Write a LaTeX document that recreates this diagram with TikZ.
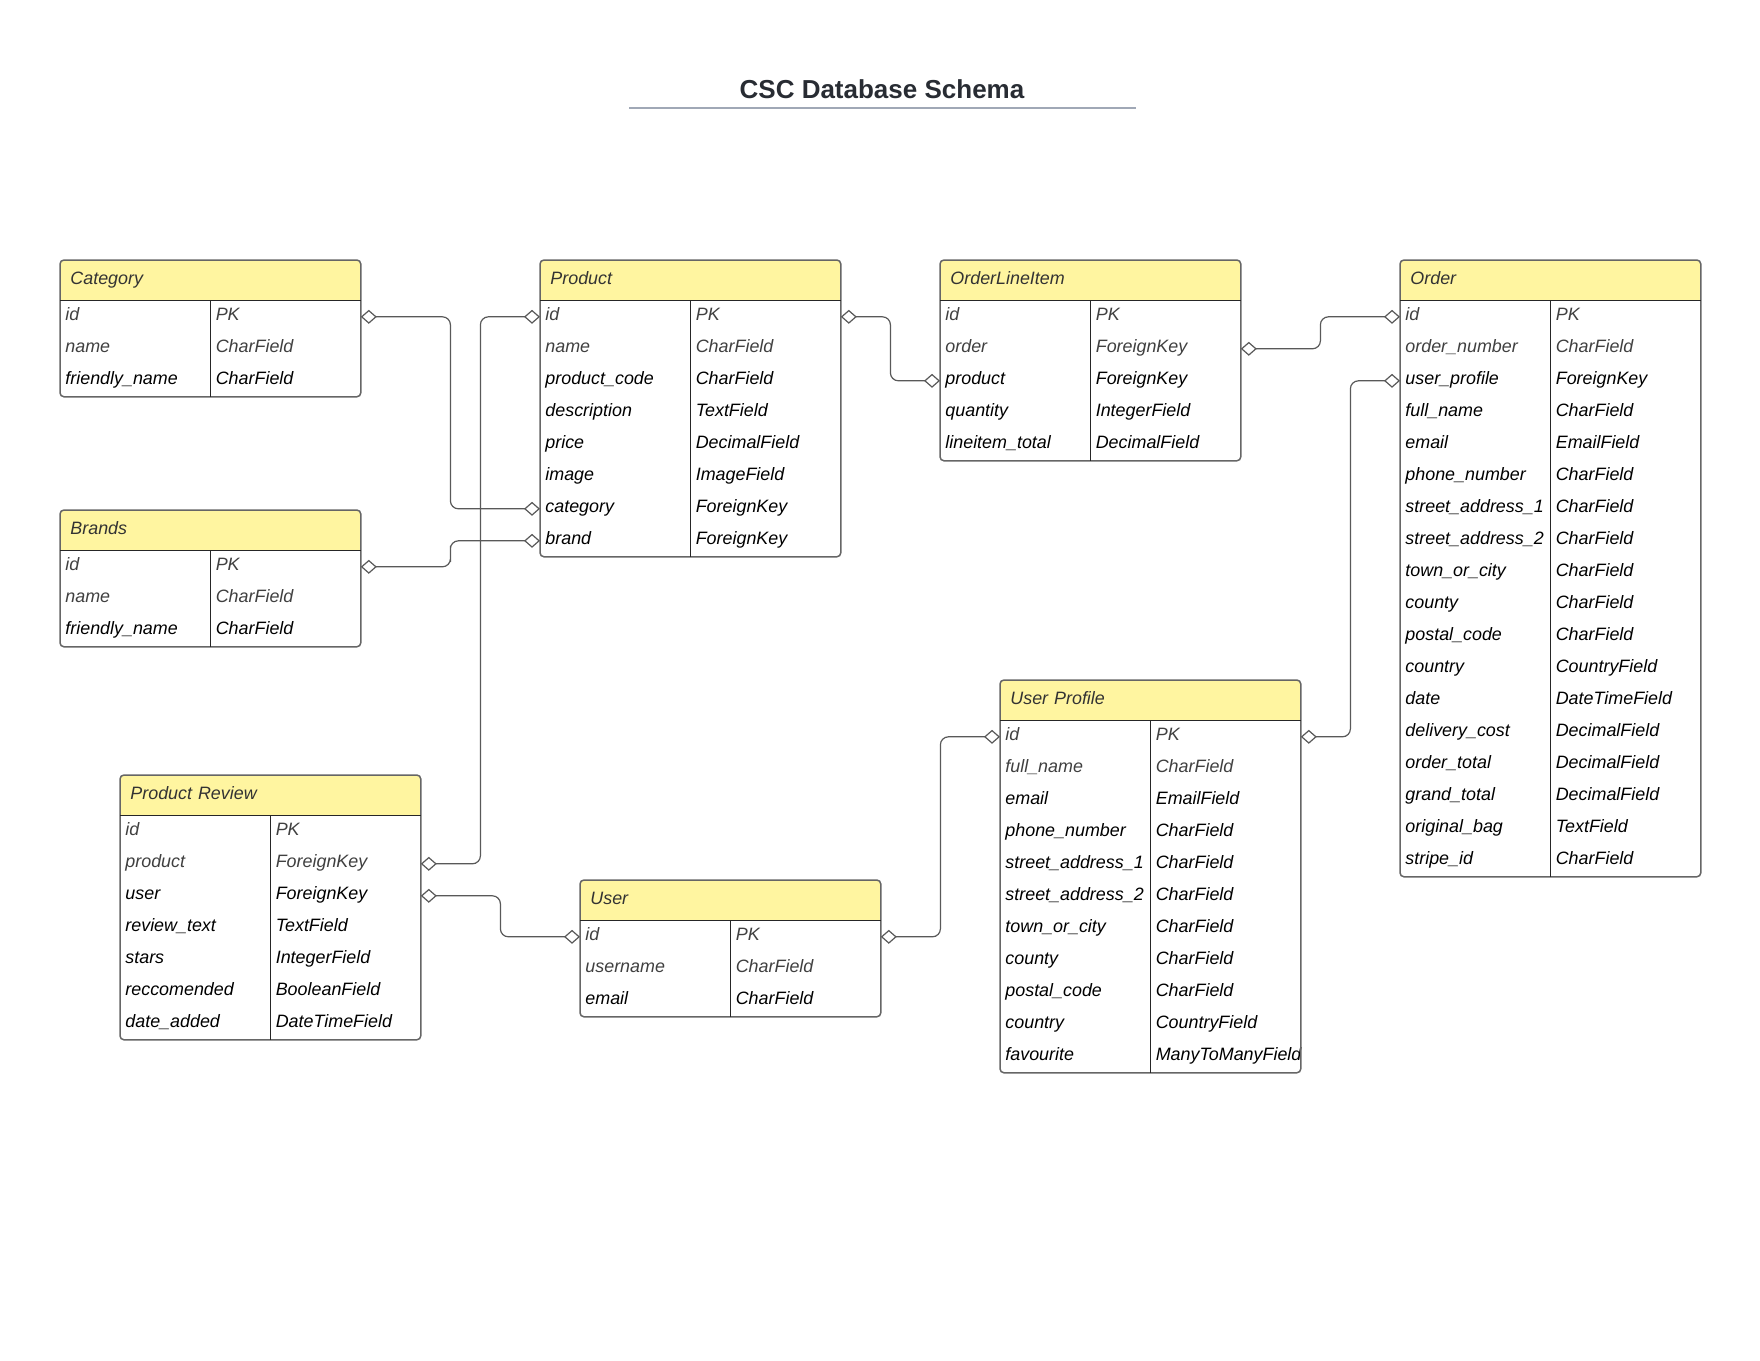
\documentclass[tikz,border=0pt]{standalone}
\usepackage{fontspec}
\setmainfont{Liberation Sans}
\usepackage{xcolor}
\usepackage{tikz}
\usetikzlibrary{calc,arrows.meta,positioning,backgrounds}
\definecolor{hdyellow}{RGB}{255,245,160}
\definecolor{titlegray}{RGB}{40,44,51}
\definecolor{ulinegray}{RGB}{160,168,182}

\begin{document}
\begin{tikzpicture}[x=0.5pt,y=-0.5pt,font=\fontsize{8.95}{10.5}\selectfont\itshape,
      hd/.style={anchor=north west,text width=140pt,inner xsep=5pt,inner ysep=0pt,minimum height=20pt,
        align=left,text height=7pt,text depth=3pt,text=black!80},
      fd/.style={anchor=west,inner sep=0pt,text height=7pt,text depth=3pt},
      hdfill/.style={fill=hdyellow,rounded corners=2pt},
      tblframe/.style={draw=black!60,line width=0.75pt,rounded corners=2pt},
      divider/.style={black!85,line width=0.6pt},
      rel/.style={draw=black!65,line width=0.6pt,rounded corners=4pt,
        {Diamond[open,length=8pt,width=7pt]}-{Diamond[open,length=8pt,width=7pt]},
        to path={-| ($(\tikztostart)!.5!(\tikztotarget)$) |- (\tikztotarget)}}]
    \useasboundingbox (0,0) rectangle (1760,1360);
    \node[font=\upshape\bfseries\fontsize{13}{15}\selectfont,text=titlegray,anchor=base] (title) at (882,98) {CSC Database Schema};
    \draw[ulinegray,line width=0.75pt] ($(title.base)+(-253,10)$) -- ++(507,0);

    % tables
    \node[hd] (category) at (60,260)   {Category};
    \foreach \f/\t [count=\i] in {id/PK,name/CharField,friendly\_name/CharField}{
      \pgfmathsetmacro\tc{\i<3?75:100}
      \node[fd,text=black!\tc] (category-\i)  at ($(category.south west)+(5,32*\i-16)$) {\f};
      \node[fd,text=black!\tc] (category-t\i) at ($(category.south)+(5,32*\i-16)$) {\t};
    }
    \node[hd] (brands) at (60,510)     {Brands};
    \foreach \f/\t [count=\i] in {id/PK,name/CharField,friendly\_name/CharField}{
      \pgfmathsetmacro\tc{\i<3?75:100}
      \node[fd,text=black!\tc] (brands-\i)  at ($(brands.south west)+(5,32*\i-16)$) {\f};
      \node[fd,text=black!\tc] (brands-t\i) at ($(brands.south)+(5,32*\i-16)$) {\t};
    }
    \node[hd] (product) at (540,260)   {Product};
    \foreach \f/\t [count=\i] in {id/PK,name/CharField,product\_code/CharField,description/TextField,
        price/DecimalField,image/ImageField,category/ForeignKey,brand/ForeignKey}{
      \pgfmathsetmacro\tc{\i<3?75:100}
      \node[fd,text=black!\tc] (product-\i)  at ($(product.south west)+(5,32*\i-16)$) {\f};
      \node[fd,text=black!\tc] (product-t\i) at ($(product.south)+(5,32*\i-16)$) {\t};
    }
    \node[hd] (lineitem) at (940,260)  {OrderLineItem};
    \foreach \f/\t [count=\i] in {id/PK,order/ForeignKey,product/ForeignKey,quantity/IntegerField,
        lineitem\_total/DecimalField}{
      \pgfmathsetmacro\tc{\i<3?75:100}
      \node[fd,text=black!\tc] (lineitem-\i)  at ($(lineitem.south west)+(5,32*\i-16)$) {\f};
      \node[fd,text=black!\tc] (lineitem-t\i) at ($(lineitem.south)+(5,32*\i-16)$) {\t};
    }
    \node[hd] (order) at (1400,260)    {Order};
    \foreach \f/\t [count=\i] in {id/PK,order\_number/CharField,user\_profile/ForeignKey,full\_name/CharField,
        email/EmailField,phone\_number/CharField,street\_address\_1/CharField,street\_address\_2/CharField,
        town\_or\_city/CharField,county/CharField,postal\_code/CharField,country/CountryField,
        date/DateTimeField,delivery\_cost/DecimalField,order\_total/DecimalField,grand\_total/DecimalField,
        original\_bag/TextField,stripe\_id/CharField}{
      \pgfmathsetmacro\tc{\i<3?75:100}
      \node[fd,text=black!\tc] (order-\i)  at ($(order.south west)+(5,32*\i-16)$) {\f};
      \node[fd,text=black!\tc] (order-t\i) at ($(order.south)+(5,32*\i-16)$) {\t};
    }
    \node[hd] (profile) at (1000,680)  {User Profile};
    \foreach \f/\t [count=\i] in {id/PK,full\_name/CharField,email/EmailField,phone\_number/CharField,
        street\_address\_1/CharField,street\_address\_2/CharField,town\_or\_city/CharField,county/CharField,
        postal\_code/CharField,country/CountryField,favourite/ManyToManyField}{
      \pgfmathsetmacro\tc{\i<3?75:100}
      \node[fd,text=black!\tc] (profile-\i)  at ($(profile.south west)+(5,32*\i-16)$) {\f};
      \node[fd,text=black!\tc] (profile-t\i) at ($(profile.south)+(5,32*\i-16)$) {\t};
    }
    \node[hd] (review) at (120,775)    {Product Review};
    \foreach \f/\t [count=\i] in {id/PK,product/ForeignKey,user/ForeignKey,review\_text/TextField,
        stars/IntegerField,reccomended/BooleanField,date\_added/DateTimeField}{
      \pgfmathsetmacro\tc{\i<3?75:100}
      \node[fd,text=black!\tc] (review-\i)  at ($(review.south west)+(5,32*\i-16)$) {\f};
      \node[fd,text=black!\tc] (review-t\i) at ($(review.south)+(5,32*\i-16)$) {\t};
    }
    \node[hd] (user) at (580,880)      {User};
    \foreach \f/\t [count=\i] in {id/PK,username/CharField,email/CharField}{
      \pgfmathsetmacro\tc{\i<3?75:100}
      \node[fd,text=black!\tc] (user-\i)  at ($(user.south west)+(5,32*\i-16)$) {\f};
      \node[fd,text=black!\tc] (user-t\i) at ($(user.south)+(5,32*\i-16)$) {\t};
    }

    % frames and rules
    \foreach \tb/\k in {category/3,brands/3,product/8,lineitem/5,order/18,profile/11,review/7,user/3}{
      \draw[tblframe] (\tb.north west) rectangle ($(\tb.south east)+(0,32*\k)$);
      \draw[divider] (\tb.south west) -- (\tb.south east);
      \draw[divider] (\tb.south) -- ++(0,32*\k);
    }
    \begin{scope}[on background layer]
      \fill[white] (0,0) rectangle (1760,1360);
      \foreach \tb in {category,brands,product,lineitem,order,profile,review,user}
        \fill[hdfill] (\tb.south west) |- (\tb.north east) -- (\tb.south east);
    \end{scope}

    % relations
    \draw[rel] (category.east |- category-1) to (product.west |- product-7);
    \draw[rel] (brands.east |- brands-1) to (product.west |- product-8);
    \draw[rel] (product.west |- product-1) to (review.east |- review-2);
    \draw[rel] (review.east |- review-3) to (user.west |- user-1);
    \draw[rel] (user.east |- user-1) to (profile.west |- profile-1);
    \draw[rel] (profile.east |- profile-1) to (order.west |- order-3);
    \draw[rel] (product.east |- product-1) to (lineitem.west |- lineitem-3);
    \draw[rel] (lineitem.east |- lineitem-2) to (order.west |- order-1);
  \end{tikzpicture}
\end{document}
